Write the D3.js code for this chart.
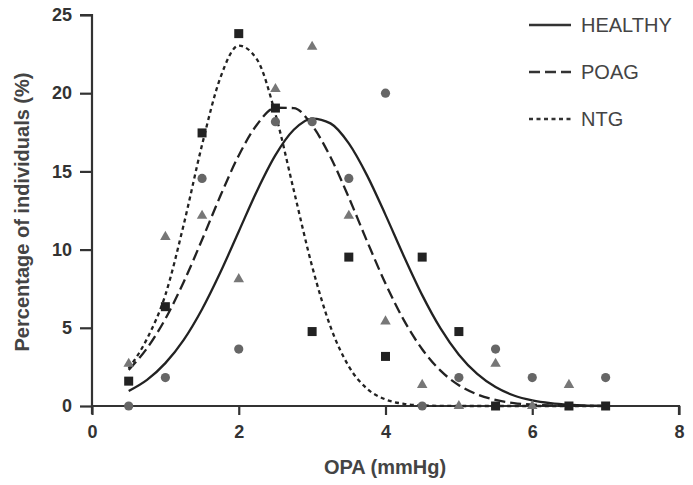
<!DOCTYPE html>
<html><head><meta charset="utf-8">
<script src="https://cdn.jsdelivr.net/npm/d3@7"></script>
<style>
html,body{margin:0;padding:0;background:#fff;}
svg{display:block;font-family:"Liberation Sans",Arial,sans-serif;}
</style></head>
<body><svg id="c" width="693" height="485"></svg>
<script>
// Observed points (percentage of individuals) by OPA bin
const squareX = [0.5,1,1.5,2,2.5,3,3.5,4,4.5,5,5.5,6.5,7];
const squareY = [1.59,6.35,17.46,23.81,19.05,4.76,9.52,3.17,9.52,4.76,0,0,0];
const triangleX = [0.5,1,1.5,2,2.5,3,3.5,4,4.5,5,5.5,6,6.5];
const triangleY = [2.70,10.81,12.16,8.11,20.27,22.97,12.16,5.41,1.35,0,2.70,0,1.35];
const circleX = [0.5,1,1.5,2,2.5,3,3.5,4,4.5,5,5.5,6,7];
const circleY = [0,1.82,14.55,3.64,18.18,18.18,14.55,20.0,0,1.82,3.64,1.82,1.82];

// Fitted curves
const curveX = [0.5,0.75,1,1.25,1.5,1.75,2,2.25,2.5,2.75,3,3.25,3.5,3.75,4,4.25,4.5,4.75,5,5.25,5.5,5.75,6,6.25,6.5,6.75,7];
const healthyY = [0.96,1.67,2.74,4.23,6.19,8.55,11.16,13.77,16.04,17.66,18.38,18.07,16.79,14.73,12.22,9.58,7.09,4.96,3.28,2.05,1.21,0.67,0.36,0.18,0.08,0.03,0.01];
const poagY = [2.31,3.69,5.57,7.93,10.63,13.44,16.02,18.0,19.07,19.05,17.94,15.92,13.33,10.52,7.83,5.49,3.63,2.26,1.33,0.74,0.39,0.19,0.09,0.04,0.02,0.01,0];
const ntgY = [2.4,4.3,7.1,11.6,16.7,21.0,23.04,22.15,18.67,13.79,8.93,5.07,2.53,1.10,0.42,0.14,0.04,0.01,0,0,0,0,0,0,0,0,0];

const seriesNames = ["HEALTHY","POAG","NTG"];
const xTicks = [0,2,4,6,8];
const yTicks = [0,5,10,15,20,25];

const svg = d3.select("#c");
const x = d3.scaleLinear().domain([0,8]).range([92,679]);
const y = d3.scaleLinear().domain([0,25]).range([406,15]);
const axisCol = "#333";

// axes
const gx = svg.append("g").attr("transform","translate(0,406)")
  .call(d3.axisBottom(x).tickValues(xTicks).tickSize(9).tickPadding(10).tickFormat(d3.format("d")));
const gy = svg.append("g").attr("transform","translate(92,0)")
  .call(d3.axisLeft(y).tickValues(yTicks).tickSize(12).tickPadding(8).tickFormat(d3.format("d")));
[gx,gy].forEach(g=>{
  g.select(".domain").attr("stroke",axisCol).attr("stroke-width",2.2);
  g.selectAll(".tick line").attr("stroke",axisCol).attr("stroke-width",2.2);
  g.selectAll(".tick text").attr("fill","#333").attr("font-size",18).attr("font-weight","bold")
    .attr("font-family","Liberation Sans, Arial, sans-serif");
});
gx.select(".domain").attr("d","M92,0H679V9");
gy.select(".domain").attr("d","M-12,15H0V414");

// axis titles
svg.append("text").attr("x",385).attr("y",474).attr("text-anchor","middle")
  .attr("font-size",20).attr("font-weight","bold").attr("fill","#444").text("OPA (mmHg)");
svg.append("text").attr("transform","translate(29,212) rotate(-90)").attr("text-anchor","middle")
  .attr("font-size",20).attr("font-weight","bold").attr("fill","#444").text("Percentage of individuals (%)");

// curves
const line = d3.line().x(d=>x(d[0])).y(d=>y(d[1])).curve(d3.curveMonotoneX);
const dashes = {HEALTHY:null, POAG:"11,5", NTG:"4,3.5"};
const curves = [healthyY, poagY, ntgY];
seriesNames.forEach((n,i)=>{
  svg.append("path").datum(curveX.map((v,j)=>[v,curves[i][j]]))
    .attr("d",line).attr("fill","none").attr("stroke","#222").attr("stroke-width",2.3)
    .attr("stroke-dasharray",dashes[n]);
});

// points
svg.append("g").selectAll("circle").data(circleX.map((v,i)=>[v,circleY[i]])).join("circle")
  .attr("cx",d=>x(d[0])).attr("cy",d=>y(d[1])).attr("r",4.6).attr("fill","#666");
const tri = d3.symbol().type(d3.symbolTriangle).size(48);
svg.append("g").selectAll("path").data(triangleX.map((v,i)=>[v,triangleY[i]])).join("path")
  .attr("d",tri).attr("transform",d=>`translate(${x(d[0])},${y(d[1])})`).attr("fill","#777");
svg.append("g").selectAll("rect").data(squareX.map((v,i)=>[v,squareY[i]])).join("rect")
  .attr("x",d=>x(d[0])-4.5).attr("y",d=>y(d[1])-4.5).attr("width",9).attr("height",9).attr("fill","#222");

// legend
const legY = [25,72,119];
seriesNames.forEach((n,i)=>{
  svg.append("line").attr("x1",529).attr("x2",571).attr("y1",legY[i]).attr("y2",legY[i])
    .attr("stroke","#333").attr("stroke-width",2.3).attr("stroke-dasharray",dashes[n]);
  svg.append("text").attr("x",581).attr("y",legY[i]+7).attr("font-size",20).attr("fill","#444").text(n);
});
</script></body></html>
